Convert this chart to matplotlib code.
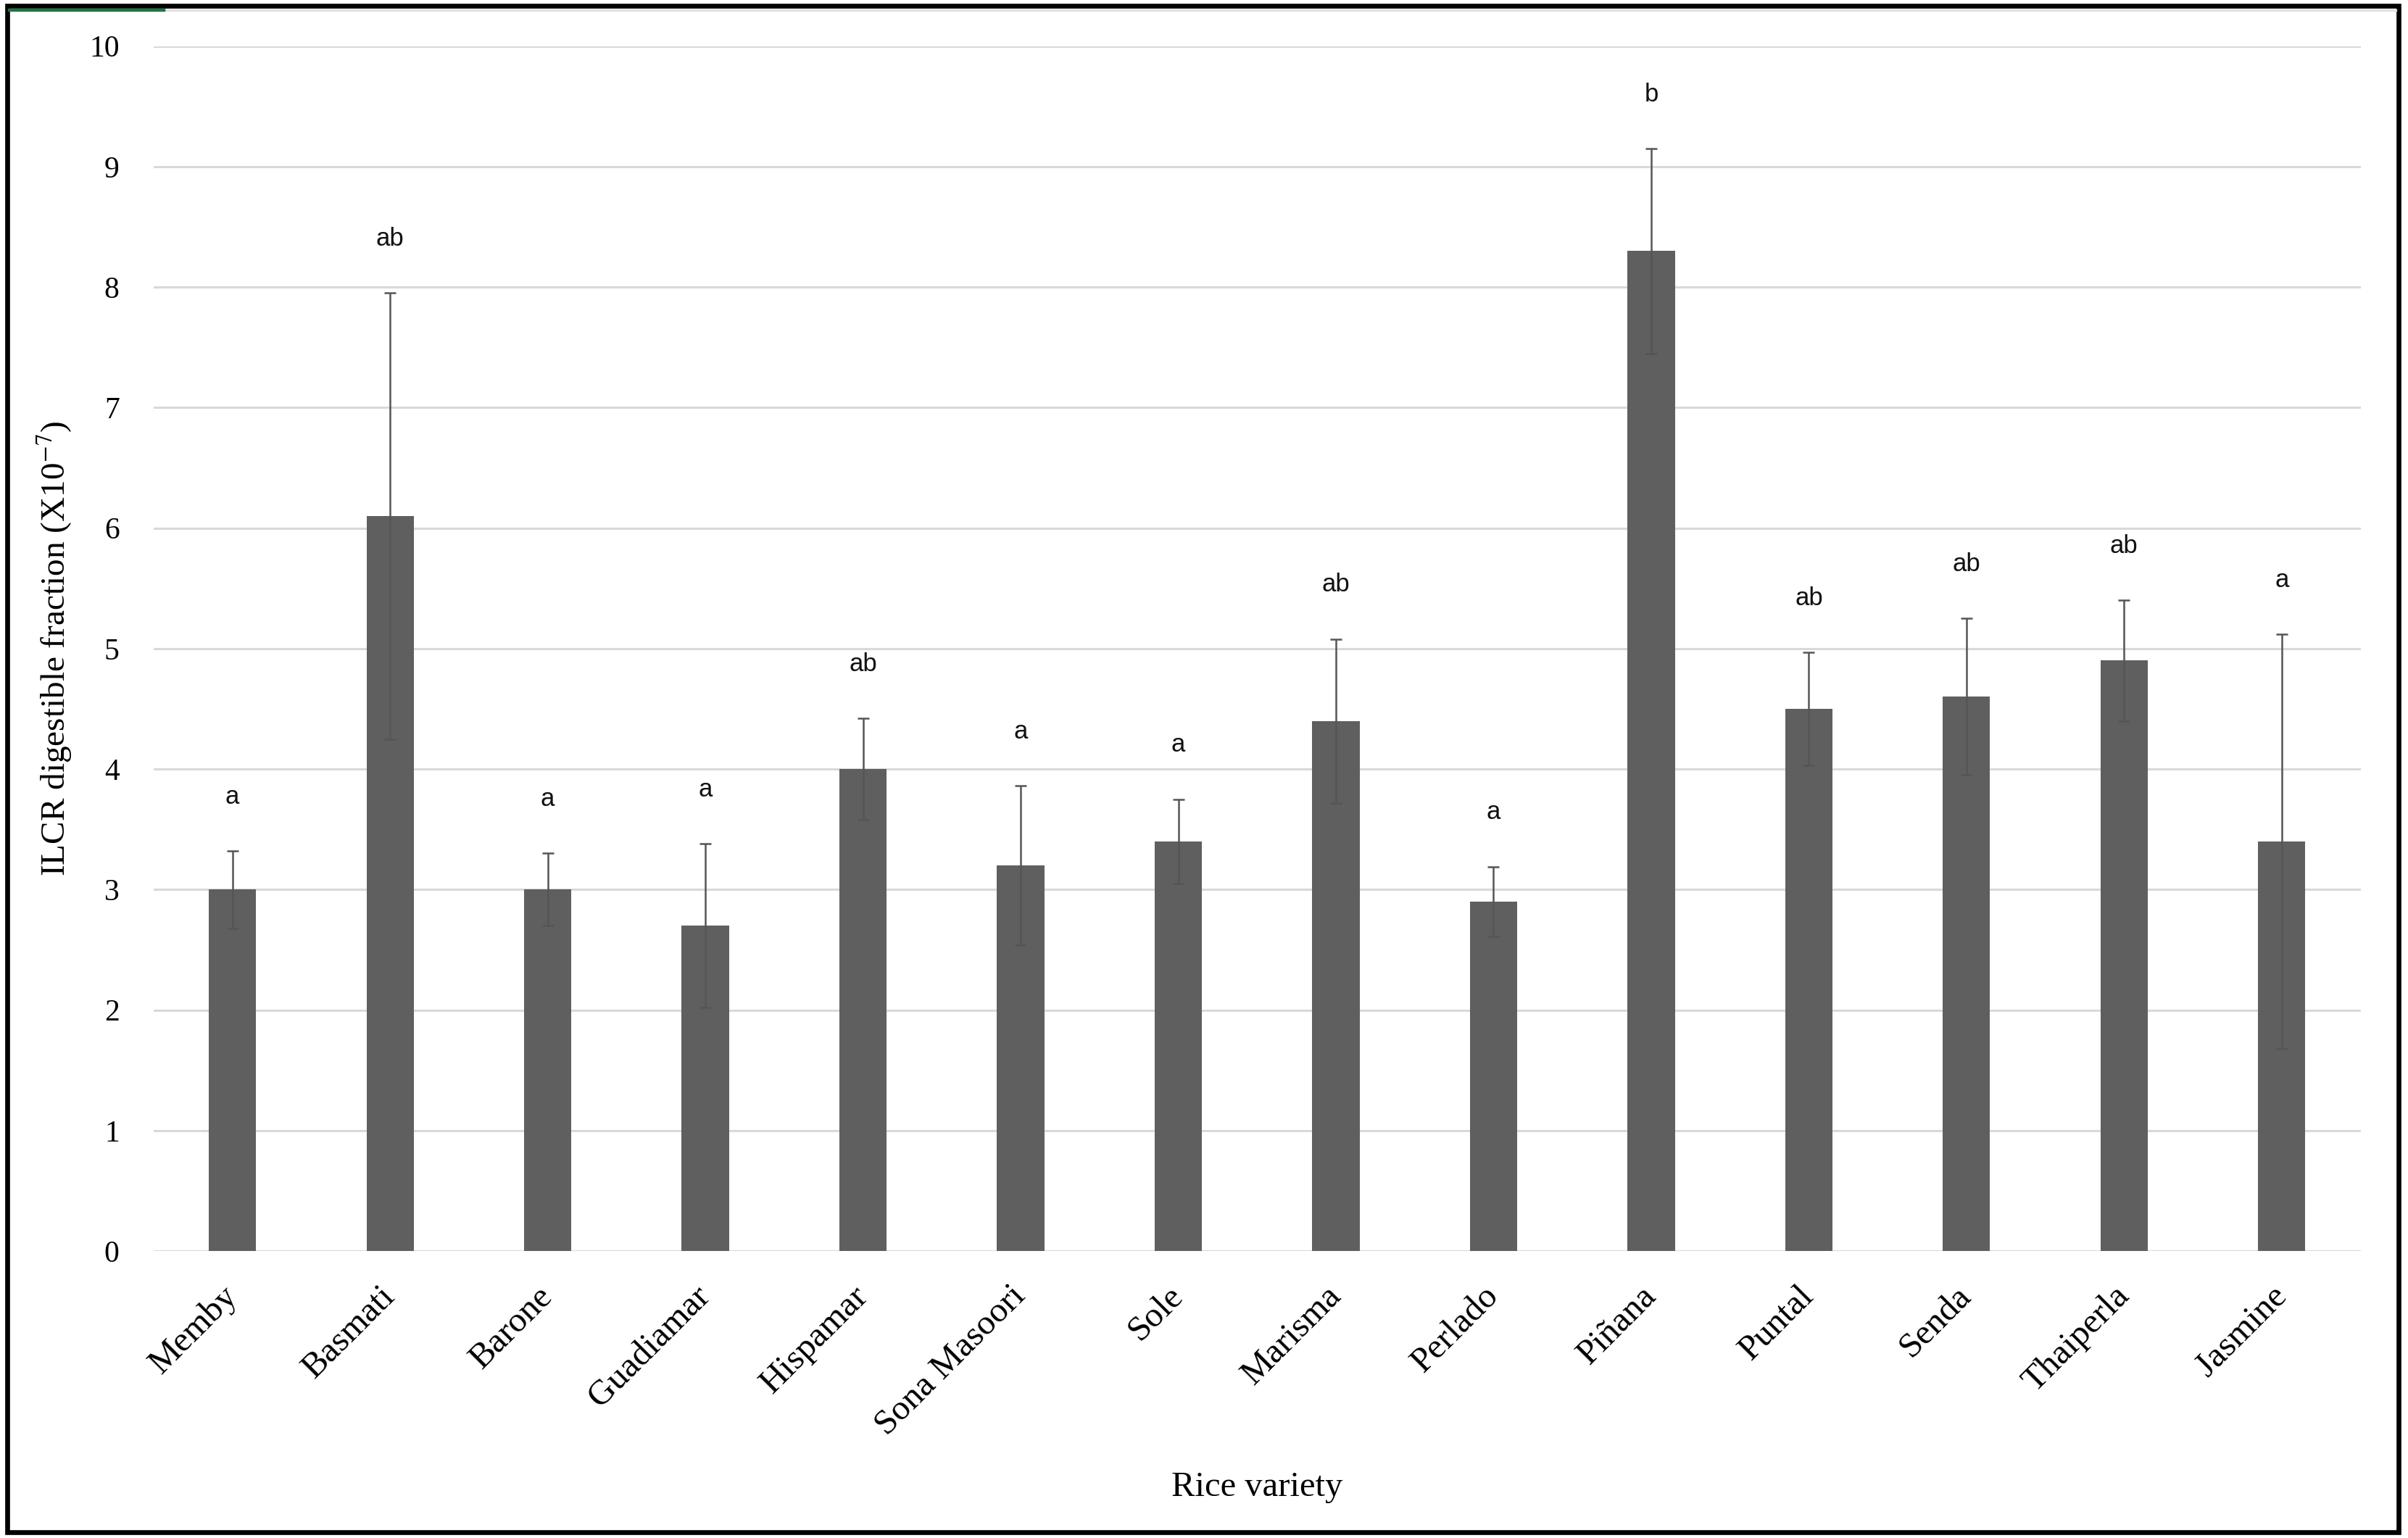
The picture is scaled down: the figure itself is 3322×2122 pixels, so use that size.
import numpy as np
import matplotlib.pyplot as plt
from matplotlib.patches import Rectangle
from matplotlib.lines import Line2D

# ── Data ─────────────────────────────────────────────────────────────────────
varieties = ["Memby", "Basmati", "Barone", "Guadiamar", "Hispamar", "Sona Masoori",
             "Sole", "Marisma", "Perlado", "Piñana", "Puntal", "Senda",
             "Thaiperla", "Jasmine"]
ilcr_mean = [3.0, 6.1, 3.0, 2.7, 4.0, 3.2, 3.4, 4.4, 2.9, 8.3, 4.5, 4.6, 4.9, 3.4]
ilcr_err  = [0.32, 1.85, 0.30, 0.68, 0.42, 0.66, 0.35, 0.68, 0.29, 0.85, 0.47, 0.65, 0.50, 1.72]
groups    = ["a", "ab", "a", "a", "ab", "a", "a", "ab", "a", "b", "ab", "ab", "ab", "a"]

BAR_COLOR  = "#5f5f5f"
ERR_COLOR  = "#555555"
GRID_COLOR = "#d9d9d9"
LETTER_GAP = 0.45  # space between top of error bar and significance letter

plt.rcParams["mathtext.fontset"] = "stix"
SERIF = "Liberation Serif"

fig = plt.figure(figsize=(16.61, 10.61), dpi=200)
ax = fig.add_axes([0.0638, 0.1866, 0.9165, 0.7834])

x = np.arange(len(varieties))
ax.bar(x, ilcr_mean, width=0.3, color=BAR_COLOR, zorder=2)
ax.errorbar(x, ilcr_mean, yerr=ilcr_err, fmt="none", ecolor=ERR_COLOR,
            elinewidth=0.9, capsize=3, capthick=0.9, zorder=3)

for xi, m, e, g in zip(x, ilcr_mean, ilcr_err, groups):
    ax.text(xi, m + e + LETTER_GAP, g, ha="center", va="center",
            fontsize=12.5, family="Liberation Sans", color="#111111")

ax.set_xlim(-0.5, len(varieties) - 0.5)
ax.set_ylim(0, 10)
ax.set_yticks(range(0, 11))
ax.yaxis.grid(True, color=GRID_COLOR, linewidth=1.1, zorder=0)
ax.set_axisbelow(True)
for s in ax.spines.values():
    s.set_visible(False)

ax.set_xticks(x)
ax.set_xticklabels(varieties, rotation=45, ha="right", va="center",
                   rotation_mode="anchor", family=SERIF, fontsize=17.5)
ax.tick_params(axis="x", length=0, pad=20)
ax.tick_params(axis="y", length=0, pad=17, labelsize=15)
for lbl in ax.get_yticklabels():
    lbl.set_family(SERIF)

ax.set_ylabel("ILCR digestible fraction (X10$^{-7}$)", family=SERIF, fontsize=17)
ax.yaxis.set_label_coords(-0.036, 0.5)
ax.set_xlabel("Rice variety", family=SERIF, fontsize=17.5)
ax.xaxis.set_label_coords(0.5, -0.183)

# outer black frame and the little spreadsheet remnants at the top
fig.add_artist(Rectangle((0.003, 0.004), 0.993, 0.992, transform=fig.transFigure,
                         fill=False, edgecolor="black", linewidth=2.4))
fig.add_artist(Line2D([0.068, 0.995], [0.9935, 0.9935], transform=fig.transFigure,
                      color="#e0e0e0", linewidth=1.2))
fig.add_artist(Line2D([0.004, 0.068], [0.9935, 0.9935], transform=fig.transFigure,
                      color="#217346", linewidth=1.6))

fig.savefig("out.png", dpi=200, facecolor="white")
